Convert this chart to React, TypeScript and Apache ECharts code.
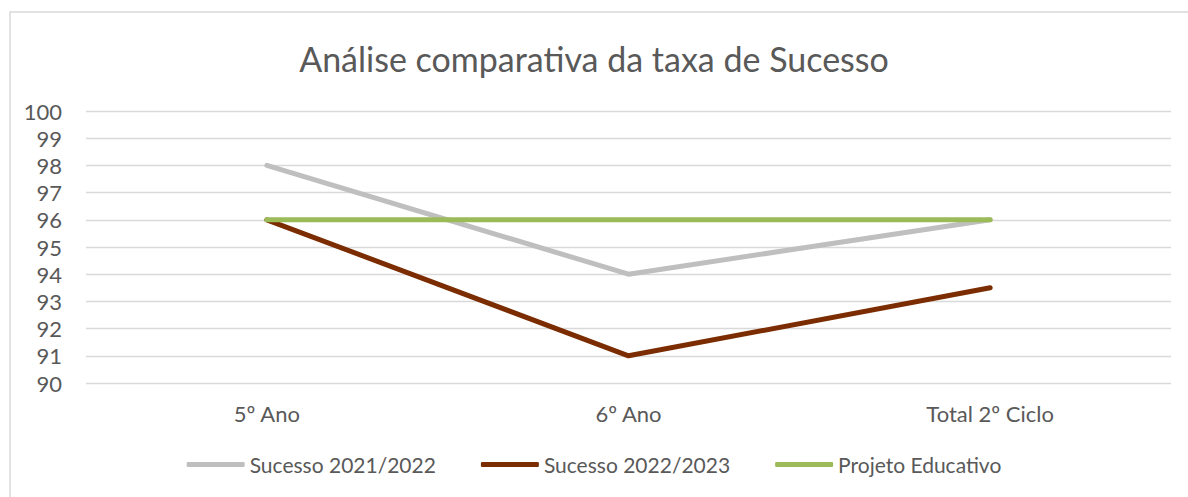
import React, { useEffect, useRef } from "react";
import * as echarts from "echarts";

const categories = ["5º Ano", "6º Ano", "Total 2º Ciclo"];
const sucesso2122 = [98, 94, 96];
const sucesso2223 = [96, 91, 93.5];
const projetoEducativo = [96, 96, 96];
const yTicks = { min: 90, max: 100, interval: 1 };

const FONT = "Lato";
const TXT = "#595959";

export default function App() {
  const ref = useRef<HTMLDivElement>(null);
  useEffect(() => {
    const chart = echarts.init(ref.current!, null, { renderer: "svg" });
    const mk = (name: string, data: number[], color: string) => ({
      name,
      type: "line",
      data,
      symbol: "none",
      lineStyle: { color, width: 5, cap: "round", join: "round" },
      itemStyle: { color },
    });
    chart.setOption({
      animation: false,
      backgroundColor: "#ffffff",
      textStyle: { fontFamily: FONT },
      title: {
        text: "Análise comparativa da taxa de Sucesso",
        left: "center",
        top: 36,
        textStyle: { fontFamily: FONT, fontSize: 34, fontWeight: "normal", color: TXT },
      },
      graphic: [
        {
          type: "rect",
          shape: { x: 10, y: 12, width: 1200, height: 500 },
          style: { fill: "none", stroke: "#d9d9d9", lineWidth: 1.5 },
          silent: true,
        },
      ],
      grid: { left: 86, right: 17, top: 111, bottom: 114 },
      legend: {
        bottom: 17,
        left: "center",
        itemWidth: 58,
        itemHeight: 5,
        itemGap: 45,
        icon: "roundRect",
        textStyle: { fontFamily: FONT, fontSize: 21, color: TXT },
        data: ["Sucesso 2021/2022", "Sucesso 2022/2023", "Projeto Educativo"],
      },
      xAxis: {
        type: "category",
        data: categories,
        boundaryGap: true,
        axisLine: { show: false },
        axisTick: { show: false },
        axisLabel: { fontFamily: FONT, fontSize: 22, color: TXT, margin: 19 },
      },
      yAxis: {
        type: "value",
        min: yTicks.min,
        max: yTicks.max,
        interval: yTicks.interval,
        axisLine: { show: false },
        axisTick: { show: false },
        axisLabel: { fontFamily: FONT, fontSize: 22, color: TXT, margin: 24 },
        splitLine: { lineStyle: { color: "#d9d9d9", width: 1.3 } },
      },
      series: [
        mk("Sucesso 2021/2022", sucesso2122, "#bfbfbf"),
        mk("Sucesso 2022/2023", sucesso2223, "#7b2c00"),
        mk("Projeto Educativo", projetoEducativo, "#9bbb59"),
      ],
    });
    return () => chart.dispose();
  }, []);
  return (
    <div
      ref={ref}
      style={{ position: "fixed", left: 0, top: 0, width: 1188, height: 497 }}
    />
  );
}
